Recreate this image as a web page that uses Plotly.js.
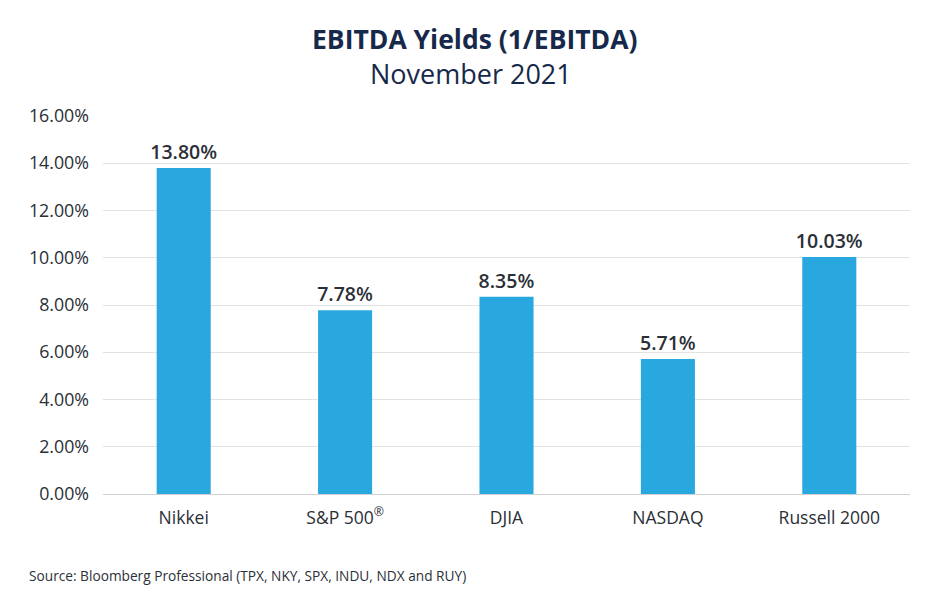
<!DOCTYPE html>
<html>
<head>
<meta charset="utf-8">
<script src="https://cdn.plot.ly/plotly-3.0.1.min.js"></script>
<style>html,body{margin:0;padding:0;background:#fff;}#chart{width:940px;height:600px;}</style>
</head>
<body>
<div id="chart"></div>
<script>
const categories = ["Nikkei", "S&P 500<sup>®</sup>", "DJIA", "NASDAQ", "Russell 2000"];
const yields = [13.80, 7.78, 8.35, 5.71, 10.03];
const yTickValues = [0, 2, 4, 6, 8, 10, 12, 14, 16];
const yTickLabels = ["0.00%", "2.00%", "4.00%", "6.00%", "8.00%", "10.00%", "12.00%", "14.00%", "16.00%"];

const FONT = "'Open Sans', sans-serif";

const trace = {
  type: "bar",
  x: categories,
  y: yields,
  marker: {color: "#29a8e0"},
  text: yields.map(v => v.toFixed(2) + "%"),
  textposition: "outside",
  constraintext: "none",
  cliponaxis: false,
  textfont: {family: FONT, size: 19.5, color: "#2b2f36", weight: 600},
  hoverinfo: "none"
};

const layout = {
  width: 940, height: 600,
  margin: {l: 103, r: 30, t: 116, b: 106},
  paper_bgcolor: "#fff", plot_bgcolor: "#fff",
  bargap: 0.665,
  showlegend: false,
  font: {family: FONT, color: "#2b2f36"},
  xaxis: {
    type: "category",
    tickfont: {family: FONT, size: 17.5, color: "#2b2f36"},
    ticks: "", showline: false, showgrid: false,
    ticklabelstandoff: 11
  },
  yaxis: {
    range: [0, 16],
    tickvals: yTickValues,
    ticktext: yTickLabels,
    tickfont: {family: FONT, size: 17.8, color: "#2b2f36"},
    gridcolor: "#e3e3e3", gridwidth: 1,
    zeroline: true, zerolinecolor: "#d0d0d0", zerolinewidth: 1,
    ticks: "", ticklen: 0, automargin: false,
    ticklabelstandoff: 13
  },
  annotations: [
    {text: "<b>EBITDA Yields (1/EBITDA)</b>", xref: "paper", yref: "paper", xanchor: "center", yanchor: "middle", showarrow: false, font: {family: FONT, size: 26.5, color: "#17294a"}},
    {text: "November 2021", xref: "paper", yref: "paper", xanchor: "center", yanchor: "middle", showarrow: false, font: {family: FONT, size: 27, color: "#17294a"}},
    {text: "Source: Bloomberg Professional (TPX, NKY, SPX, INDU, NDX and RUY)", xref: "paper", yref: "paper", xanchor: "left", yanchor: "middle", showarrow: false, font: {family: FONT, size: 13.7, color: "#2b2f36"}}
  ]
};

const plotW = 940 - 103 - 30, plotH = 600 - 116 - 106;
function px(xp){ return (xp - 103) / plotW; }
function py(yp){ return (600 - 106 - yp) / plotH; }
layout.annotations[0].x = px(474); layout.annotations[0].y = py(39);
layout.annotations[1].x = px(471); layout.annotations[1].y = py(73);
layout.annotations[2].x = px(27); layout.annotations[2].y = py(575);

Plotly.newPlot("chart", [trace], layout, {displayModeBar: false, staticPlot: true});
</script>
</body>
</html>
